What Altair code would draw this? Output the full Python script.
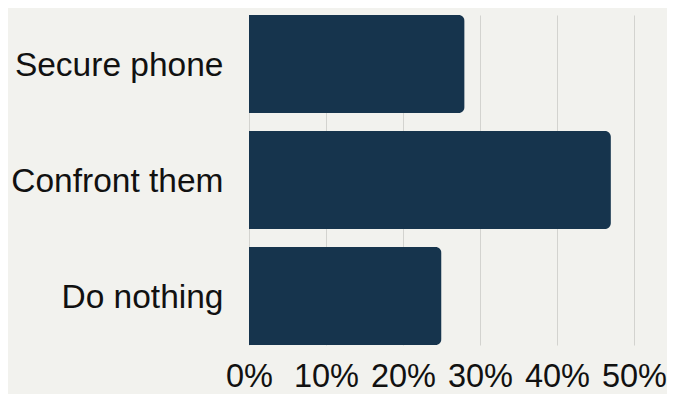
import altair as alt
import pandas as pd

categories = ["Secure phone", "Confront them", "Do nothing"]
shares = [0.28, 0.47, 0.25]
tick_values = [0, 0.1, 0.2, 0.3, 0.4, 0.5]

df = pd.DataFrame({"category": categories, "share": shares})

FONT = "Liberation Sans"

chart = (
    alt.Chart(df)
    .mark_bar(color="#16344d", cornerRadiusEnd=6)
    .encode(
        x=alt.X(
            "share:Q",
            scale=alt.Scale(domain=[0, 0.5], nice=False),
            axis=alt.Axis(
                values=tick_values,
                format=".0%",
                title=None,
                ticks=False,
                domain=False,
                grid=True,
                gridColor="#d3d3cf",
                gridWidth=1,
                labelFont=FONT,
                labelFontSize=32.5,
                labelColor="#111111",
                labelPadding=15,
                labelFlush=False,
            ),
        ),
        y=alt.Y(
            "category:N",
            sort=categories,
            scale=alt.Scale(paddingInner=0.156, paddingOuter=0),
            axis=alt.Axis(
                title=None,
                ticks=False,
                domain=False,
                labelFont=FONT,
                labelFontSize=33.5,
                labelColor="#111111",
                labelPadding=26,
                labelLimit=0,
                labelOffset=2,
            ),
        ),
    )
    .properties(
        width=385,
        height=330,
        background="#f2f2ee",
        padding={"left": 241, "top": 7, "right": 33, "bottom": 49},
        autosize=alt.AutoSizeParams(type="none"),
    )
    .configure_view(stroke=None)
)

chart.save("out.html", embed_options={"renderer": "svg", "actions": False})
